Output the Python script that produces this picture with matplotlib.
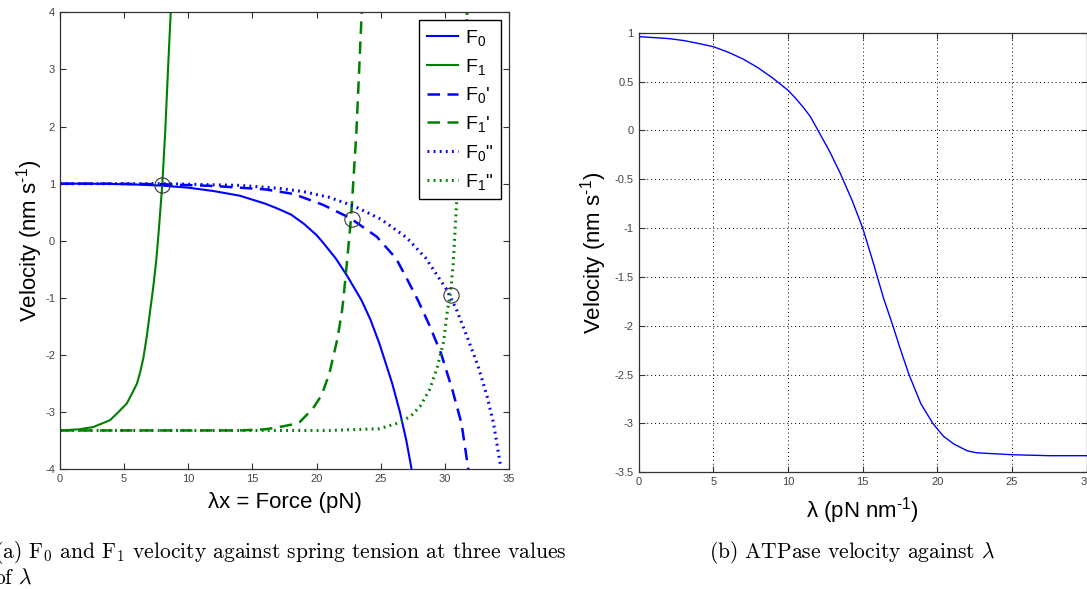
import matplotlib
matplotlib.use("Agg")
import matplotlib.pyplot as plt

plt.rcParams['font.family'] = ['Liberation Sans', 'DejaVu Sans']
plt.rcParams['mathtext.fontset'] = 'custom'
plt.rcParams['mathtext.rm'] = 'Liberation Sans'
plt.rcParams['mathtext.it'] = 'Liberation Sans:italic'
plt.rcParams['axes.unicode_minus'] = False

# (a) velocity against force, three values of lambda
f0_x = [0, 2, 4, 6, 8, 10, 12, 14, 16, 17, 18, 19, 20, 20.5, 21.5, 22.4, 23.5, 24.2, 24.9, 25.9, 26.5, 27.0, 27.45]
f0_y = [1.0, 1.0, 0.995, 0.985, 0.965, 0.93, 0.87, 0.79, 0.65, 0.56, 0.46, 0.3, 0.1, -0.03, -0.31, -0.62, -1.04, -1.38, -1.8, -2.5, -3.0, -3.5, -4.05]
f1_x = [0, 1.5, 2.6, 3.9, 4.5, 5.2, 5.6, 6.0, 6.25, 6.5, 6.76, 7.0, 7.27, 7.5, 7.66, 7.97, 8.2, 8.4, 8.65]
f1_y = [-3.32, -3.3, -3.26, -3.14, -3.01, -2.85, -2.68, -2.5, -2.3, -2.05, -1.68, -1.27, -0.81, -0.35, 0.07, 0.97, 1.9, 2.9, 4.1]

f0p_x = [0, 4, 8, 12, 14, 16, 18.2, 20.5, 22.6, 24.7, 26.2, 27.1, 27.9, 28.8, 29.7, 30.6, 31.3, 31.85]
f0p_y = [1.0, 1.0, 0.99, 0.96, 0.93, 0.9, 0.82, 0.63, 0.4, 0.07, -0.31, -0.69, -1.04, -1.48, -1.97, -2.62, -3.2, -4.03]
f1p_x = [0, 5, 10, 14, 16, 17.1, 18, 18.7, 19.7, 20.4, 21.0, 21.6, 21.96, 22.1, 22.4, 22.68, 23.1, 23.5, 23.55]
f1p_y = [-3.32, -3.32, -3.32, -3.32, -3.3, -3.26, -3.22, -3.17, -2.94, -2.7, -2.32, -1.74, -1.27, -1.0, -0.3, 0.38, 1.88, 3.9, 4.1]

f0pp_x = [0, 4, 8, 12, 14, 17, 19, 21, 23, 25, 27, 28.5, 30.1, 30.9, 31.8, 32.6, 33.3, 33.8, 34.35]
f0pp_y = [1.0, 1.0, 1.0, 0.98, 0.97, 0.92, 0.86, 0.76, 0.6, 0.38, 0.06, -0.3, -0.84, -1.2, -1.72, -2.2, -2.73, -3.2, -3.95]
f1pp_x = [0, 10, 21, 24.9, 26.2, 27.3, 28.06, 28.8, 29.4, 29.9, 30.15, 30.45, 30.65, 30.9, 31.2, 31.5, 31.75]
f1pp_y = [-3.32, -3.32, -3.32, -3.29, -3.2, -3.08, -2.9, -2.61, -2.22, -1.77, -1.3, -0.9, -0.4, 0.6, 1.8, 3.0, 4.05]

cross_x = [7.97, 22.75, 30.45]
cross_y = [0.97, 0.38, -0.95]

# (b) ATPase velocity against lambda
lam = [0, 2, 3, 4, 5, 6, 7, 8, 9, 10, 10.5, 11, 11.5, 11.9, 12.8, 13.5, 14.3, 15, 15.6, 16.4, 17, 17.5, 18.1, 18.9, 19.7, 20.4, 21.1, 22, 22.6, 25, 27.5, 30]
vel = [0.96, 0.94, 0.92, 0.89, 0.857, 0.8, 0.73, 0.64, 0.533, 0.41, 0.33, 0.24, 0.14, 0.03, -0.22, -0.44, -0.72, -1.0, -1.3, -1.72, -1.99, -2.23, -2.5, -2.8, -3.0, -3.13, -3.21, -3.28, -3.3, -3.32, -3.33, -3.33]

blue = (0, 0, 1)
green = (0, 0.5, 0)
axcol = '#333333'

fig = plt.figure(figsize=(10.87, 5.89), dpi=100)
ax1 = fig.add_axes([60 / 1087, 1 - 469.3 / 589, 449 / 1087, 457 / 589])
ax2 = fig.add_axes([638.7 / 1087, 1 - 472.3 / 589, 448 / 1087, 439.6 / 589])

ax1.plot(f0_x, f0_y, color=blue, lw=1.5, label='F$_0$')
ax1.plot(f1_x, f1_y, color=green, lw=1.5, label='F$_1$')
ax1.plot(f0p_x, f0p_y, color=blue, lw=1.8, ls=(0, (5, 3)), label="F$_0$'")
ax1.plot(f1p_x, f1p_y, color=green, lw=1.8, ls=(0, (5, 3)), label="F$_1$'")
ax1.plot(f0pp_x, f0pp_y, color=blue, lw=2.2, ls=(0, (0.6, 1.4)), label='F$_0$"')
ax1.plot(f1pp_x, f1pp_y, color=green, lw=2.2, ls=(0, (0.6, 1.4)), label='F$_1$"')
ax1.plot(cross_x, cross_y, 'o', ms=11, mfc='none', mec='#333333', mew=0.8)

ax1.set_xlim(0, 35)
ax1.set_ylim(-4, 4)
ax1.set_xticks(range(0, 36, 5))
ax1.set_yticks(range(-4, 5))
ax1.set_xlabel('λx = Force (pN)', fontsize=16, labelpad=6)
ax1.set_ylabel(r'Velocity (nm s$^{\text{-1}}$)', fontsize=16, labelpad=0)
leg = ax1.legend(loc='upper right', fontsize=14, fancybox=False, edgecolor='black',
                 handlelength=1.6, handletextpad=0.4, labelspacing=0.45,
                 borderaxespad=0.4, framealpha=1)
leg.get_frame().set_linewidth(1.0)

ax2.plot(lam, vel, color=blue, lw=1.0)
ax2.set_xlim(0, 30)
ax2.set_ylim(-3.5, 1)
ax2.set_xticks(range(0, 31, 5))
ax2.set_yticks([1, 0.5, 0, -0.5, -1, -1.5, -2, -2.5, -3, -3.5])
ax2.set_yticklabels(['1', '0.5', '0', '-0.5', '-1', '-1.5', '-2', '-2.5', '-3', '-3.5'])
ax2.grid(True, color='black', ls=(0, (1, 3)), lw=0.7)
ax2.set_xlabel(r'λ (pN nm$^{\text{-1}}$)', fontsize=16, labelpad=6)
ax2.set_ylabel(r'Velocity (nm s$^{\text{-1}}$)', fontsize=16, labelpad=4)

for ax in (ax1, ax2):
    ax.tick_params(direction='in', top=True, right=True, length=4, width=0.8,
                   labelsize=8, colors=axcol, labelcolor='#444444')
    for s in ax.spines.values():
        s.set_color(axcol)
        s.set_linewidth(0.9)

cap = dict(fontfamily='cmr10', fontsize=15.5)
plt.rcParams['mathtext.fontset'] = 'cm'
fig.text(-6 / 1087, 1 - 553 / 589, r'(a) F$_0$ and F$_1$ velocity against spring tension at three values',
         va='center', ha='left', **cap)
fig.text(-6 / 1087, 1 - 578 / 589, r'of $\lambda$', va='center', ha='left', **cap)
fig.text(852 / 1087, 1 - 553 / 589, r'(b) ATPase velocity against $\lambda$', va='center', ha='center', **cap)

fig.savefig('out.png', dpi=100)
